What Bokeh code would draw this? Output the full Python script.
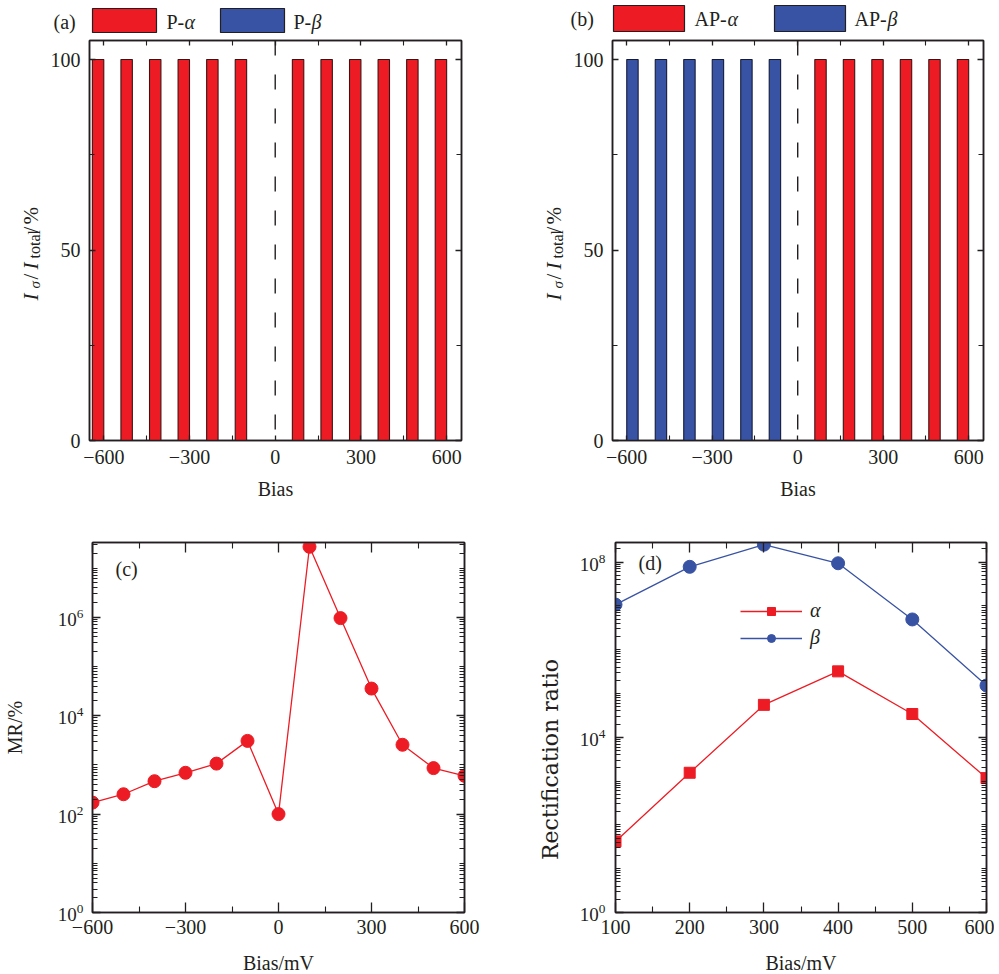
import math
from bokeh.plotting import figure
from bokeh.models import (ColumnDataSource, FixedTicker, Span, Label, BoxAnnotation,
                          LinearAxis, LogAxis, CustomJSTickFormatter, Legend, LegendItem, Range1d)
from bokeh.layouts import row, column
from bokeh.transform import dodge
from bokeh.embed import file_html
from bokeh.resources import INLINE

FONT = "Liberation Serif"
RED = "#ED1C24"
BLUE = "#3953A4"
INK = "#231F20"

# ---------------- data ----------------
bias = [-600, -500, -400, -300, -200, -100, 0, 100, 200, 300, 400, 500, 600]
p_alpha = [100, 100, 100, 100, 100, 100, 0, 100, 100, 100, 100, 100, 100]
p_beta = [0, 0, 0, 0, 0, 0, 0, 0, 0, 0, 0, 0, 0]
ap_alpha = [0, 0, 0, 0, 0, 0, 0, 100, 100, 100, 100, 100, 100]
ap_beta = [100, 100, 100, 100, 100, 100, 0, 0, 0, 0, 0, 0, 0]

mr = [171, 253, 466, 690, 1060, 3070, 100, 2.7e7, 9.6e5, 3.55e4, 2560, 860, 600]

rect_bias = [100, 200, 300, 400, 500, 600]
rect_alpha = [42, 1550, 5.5e4, 3.2e5, 3.4e4, 1170]
rect_beta = [1.07e7, 7.8e7, 2.5e8, 9.4e7, 4.9e6, 1.52e5]

bias_ticks = [-600, -300, 0, 300, 600]
bias_minor = [-450, -150, 150, 450]
bias_tick_labels = ["\u2212600", "\u2212300", "0", "300", "600"]
pct_ticks = [0, 50, 100]
pct_minor = [25, 75]
pct_tick_labels = ["0", "50", "100"]
rect_ticks = [100, 200, 300, 400, 500, 600]
rect_minor = [150, 250, 350, 450, 550]
mr_major = [1, 1e2, 1e4, 1e6]
mr_minor = [k * 10 ** n for n in range(0, 8) for k in range(1, 10)
            if (k * 10 ** n) not in mr_major and k * 10 ** n < 3.3e7]
rr_major = [1, 1e4, 1e8]
rr_minor = [k * 10 ** n for n in range(0, 9) for k in range(1, 10)
            if (k * 10 ** n) not in rr_major and k * 10 ** n < 2.8e8]

BLANK = CustomJSTickFormatter(code="return ''")


def style_axis(ax, major_in=8, minor_in=4, hidden=False):
    ax.axis_line_width = 1.5
    ax.axis_line_color = INK
    ax.major_tick_in = major_in
    ax.major_tick_out = 0
    ax.minor_tick_in = minor_in
    ax.minor_tick_out = 0
    ax.major_tick_line_width = 1.3
    ax.minor_tick_line_width = 1.1
    ax.major_tick_line_color = INK
    ax.minor_tick_line_color = INK
    ax.major_label_text_font = FONT
    ax.major_label_text_color = INK
    ax.axis_label_text_font = FONT
    ax.axis_label_text_font_style = "normal"
    ax.axis_label_text_font_size = "20px"
    ax.axis_label_text_color = INK
    if hidden:
        ax.major_label_text_font_size = "1px"
        ax.major_label_standoff = 0
    else:
        ax.major_label_text_font_size = "20px"


def make_fig(x_range, y_range, ylog, fw, fh, bl, br, bt, bb):
    p = figure(x_range=x_range, y_range=y_range, y_axis_type="log" if ylog else "linear",
               frame_width=fw, frame_height=fh, min_border_left=bl, min_border_right=br,
               min_border_top=bt, min_border_bottom=bb, output_backend="svg",
               toolbar_location=None, background_fill_color="white",
               border_fill_color="white")
    p.xgrid.visible = False
    p.ygrid.visible = False
    p.outline_line_color = INK
    p.outline_line_width = 1.5
    return p


def blank_fig(w, h):
    p = figure(width=w, height=h, x_range=Range1d(0, 1), y_range=Range1d(0, 1),
               x_axis_location=None, y_axis_location=None, min_border=0,
               output_backend="svg", toolbar_location=None)
    p.xgrid.visible = False
    p.ygrid.visible = False
    p.outline_line_color = None
    return p


def add_axes(p, xt, xm, xl, yt, ym, yl, ylog, xin=8, xmin=4, yin=8, ymin=4):
    bottom = p.below[0]
    left = p.left[0]
    bottom.ticker = FixedTicker(ticks=xt, minor_ticks=xm)
    left.ticker = FixedTicker(ticks=yt, minor_ticks=ym)
    if xl is not None:
        bottom.major_label_overrides = dict(zip(xt, xl))
    if yl is not None:
        left.major_label_overrides = dict(zip(yt, yl))
    style_axis(bottom, xin, xmin)
    style_axis(left, yin, ymin)
    top = LinearAxis(ticker=FixedTicker(ticks=xt, minor_ticks=xm), formatter=BLANK)
    right = (LogAxis if ylog else LinearAxis)(ticker=FixedTicker(ticks=yt, minor_ticks=ym),
                                               formatter=BLANK)
    style_axis(top, xin, xmin, hidden=True)
    style_axis(right, yin, ymin, hidden=True)
    p.add_layout(top, "above")
    p.add_layout(right, "right")
    return bottom, left


def canvas_label(p, x, y, text, size="20px", style="normal", angle=0.0,
                 align="left", baseline="middle", font=FONT):
    p.add_layout(Label(x=x, y=y, x_units="canvas", y_units="canvas", text=text,
                       text_font=font, text_font_size=size, text_font_style=style,
                       text_color=INK, angle=angle, text_align=align,
                       text_baseline=baseline))


def canvas_box(p, l, r, t, b, color):
    p.add_layout(BoxAnnotation(left=l, right=r, top=t, bottom=b,
                               left_units="canvas", right_units="canvas",
                               top_units="canvas", bottom_units="canvas",
                               fill_color=color, fill_alpha=1.0,
                               line_color=INK, line_width=1.2, line_alpha=1.0))


def ylabel_fig(w, h, xb):
    # I_sigma / I_total / %  (rotated, built from pieces)
    p = blank_fig(w, h)
    rot = math.pi / 2
    canvas_label(p, xb, 264, "I", "21px", "italic", rot, "left", "alphabetic")
    canvas_label(p, xb + 4, 252, "\u03c3", "15px", "italic", rot, "left", "alphabetic")
    canvas_label(p, xb, 243, "/", "21px", "normal", rot, "left", "alphabetic")
    canvas_label(p, xb, 233, "I", "21px", "italic", rot, "left", "alphabetic")
    canvas_label(p, xb + 4, 222, "total", "16px", "normal", rot, "left", "alphabetic")
    canvas_label(p, xb, 196, "/", "21px", "normal", rot, "left", "alphabetic")
    canvas_label(p, xb, 188, "%", "21px", "normal", rot, "left", "alphabetic")
    return p


def bar_panel(alpha, beta, bl, fw, br):
    src = ColumnDataSource(dict(bias=bias, alpha=alpha, beta=beta))
    p = make_fig(Range1d(-650, 652), Range1d(0, 105), False, fw, 400, bl, br, 4, 62)
    p.vbar(x=dodge("bias", -20, range=p.x_range), top="alpha", width=40, source=src,
           fill_color=RED, line_color="#3a1414", line_width=1.1)
    p.vbar(x=dodge("bias", 20, range=p.x_range), top="beta", width=40, source=src,
           fill_color=BLUE, line_color="#141a3a", line_width=1.1)
    p.add_layout(Span(location=0, dimension="height", line_color=INK, line_width=1.4,
                      line_dash="15 19"))
    bottom, left = add_axes(p, bias_ticks, bias_minor, bias_tick_labels,
                            pct_ticks, pct_minor, pct_tick_labels, False,
                            xin=5, xmin=5, yin=6, ymin=5)
    bottom.axis_label = "Bias"
    bottom.major_label_standoff = 9
    bottom.axis_label_standoff = 11
    left.major_label_standoff = 9
    return p


# ---------------- header with panel tags and legends of (a), (b) ----------------
header = blank_fig(991, 36)
canvas_label(header, 53, 21, "(a)")
canvas_box(header, 92, 156, 8, 32, RED)
canvas_label(header, 166, 21, "P-")
canvas_label(header, 184, 21, "\u03b1", style="italic")
canvas_box(header, 220, 284, 8, 32, BLUE)
canvas_label(header, 293, 21, "P-")
canvas_label(header, 311, 21, "\u03b2", style="italic")
canvas_label(header, 570, 18, "(b)")
canvas_box(header, 613, 684, 5, 31, RED)
canvas_label(header, 694, 18, "AP-")
canvas_label(header, 727, 18, "\u03b1", style="italic")
canvas_box(header, 774, 845, 5, 31, BLUE)
canvas_label(header, 854, 18, "AP-")
canvas_label(header, 887, 18, "\u03b2", style="italic")

# ---------------- row 1: (a), (b) ----------------
yla = ylabel_fig(46, 466, 30)
pa = bar_panel(p_alpha, p_beta, 43, 372, 20)
ylb = ylabel_fig(89, 466, 72)
pb = bar_panel(ap_alpha, ap_beta, 42, 371, 8)

# ---------------- (c) MR ----------------
pc = make_fig(Range1d(-600, 600), Range1d(1, 3.3e7), True, 372, 370, 89, 20, 40, 62)
src_c = ColumnDataSource(dict(bias=bias, mr=mr))
pc.line("bias", "mr", source=src_c, line_color=RED, line_width=1.3)
pc.scatter("bias", "mr", source=src_c, marker="circle", size=13, fill_color=RED,
           line_color=RED)
bc, lc = add_axes(pc, bias_ticks, bias_minor, bias_tick_labels, mr_major, mr_minor, None,
                  True, xin=10, xmin=6, yin=8, ymin=5)
bc.axis_label = "Bias/mV"
bc.major_label_standoff = 7
bc.axis_label_standoff = 15
lc.axis_label = "MR/%"
lc.major_label_standoff = 9
lc.major_label_text_font_size = "19px"
lc.axis_label_standoff = 29
canvas_label(pc, 115, 66, "(c)")

# ---------------- (d) rectification ratio ----------------
yld = blank_fig(86, 472)
canvas_label(yld, 66, 257, "Rectification ratio", "22px", "normal", math.pi / 2,
             "center", "alphabetic", font="DejaVu Serif")

pd_ = make_fig(Range1d(100, 600), Range1d(1, 2.8e8), True, 371, 370, 45, 8, 40, 62)
src_d = ColumnDataSource(dict(bias=rect_bias, a=rect_alpha, b=rect_beta))
la = pd_.line("bias", "a", source=src_d, line_color=RED, line_width=1.3)
sa = pd_.scatter("bias", "a", source=src_d, marker="square", size=11, fill_color=RED,
                 line_color=RED)
lb = pd_.line("bias", "b", source=src_d, line_color=BLUE, line_width=1.3)
sb = pd_.scatter("bias", "b", source=src_d, marker="circle", size=13, fill_color=BLUE,
                 line_color=BLUE)
bd, ld = add_axes(pd_, rect_ticks, rect_minor, None, rr_major, rr_minor, None, True,
                  xin=10, xmin=6, yin=8, ymin=5)
bd.axis_label = "Bias/mV"
bd.major_label_standoff = 7
bd.axis_label_standoff = 15
ld.major_label_standoff = 10
ld.major_label_text_font_size = "19px"
leg = Legend(items=[LegendItem(label="\u03b1", renderers=[la, sa]),
                    LegendItem(label="\u03b2", renderers=[lb, sb])],
             location=(125, 263), padding=0, margin=0, border_line_color=None,
             background_fill_alpha=0, glyph_width=62, glyph_height=20,
             label_standoff=8, spacing=4, label_text_font=FONT,
             label_text_font_style="italic", label_text_font_size="20px",
             label_text_color=INK)
pd_.add_layout(leg)
canvas_label(pd_, 68, 60, "(d)")

layout = column(header, row(yla, pa, ylb, pb), row(pc, yld, pd_))
open("out.html", "w").write(file_html(layout, INLINE))
